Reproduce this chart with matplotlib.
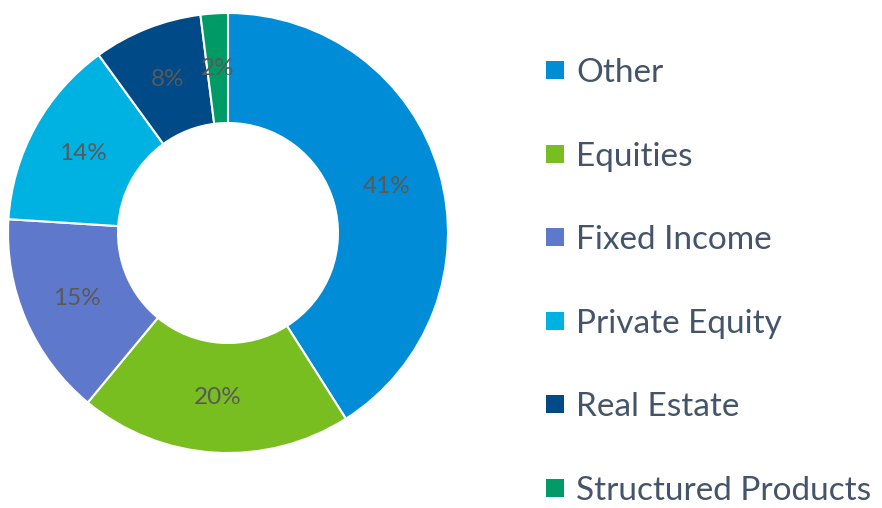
import matplotlib
matplotlib.use('Agg')
import matplotlib.pyplot as plt
from matplotlib.patches import Rectangle

labels = ['Other', 'Equities', 'Fixed Income', 'Private Equity', 'Real Estate', 'Structured Products']
shares = [41, 20, 15, 14, 8, 2]
colors = ['#008CD6', '#78BE20', '#5E78CC', '#00B2E2', '#004B87', '#009A66']

plt.rcParams['font.family'] = ['Lato', 'DejaVu Sans']

fig = plt.figure(figsize=(8.82, 5.08), dpi=100)
ax = fig.add_axes([8 / 882, 55 / 508, 440 / 882, 440 / 508])

wedges, texts, autotexts = ax.pie(
    shares, colors=colors, startangle=90, counterclock=False,
    autopct='%d%%', pctdistance=0.75, radius=1.0,
    wedgeprops=dict(width=0.5, edgecolor='white', linewidth=1.5),
    textprops=dict(color='#595959', fontsize=17.5))
ax.set_xlim(-1, 1)
ax.set_ylim(-1, 1)
ax.set_aspect('equal')

# legend drawn by hand, one row every ~83.6 px
step = 83.6
for i, (lab, col) in enumerate(zip(labels, colors)):
    yc = 1 - (70 + step * i) / 508
    yb = 1 - (82 + step * i) / 508
    fig.patches.append(Rectangle((546 / 882, yc - 9 / 508), 18 / 882, 18 / 508,
                                 transform=fig.transFigure, facecolor=col,
                                 edgecolor='none'))
    fig.text(576 / 882, yb, lab, fontsize=24, color='#44546A', va='baseline')

fig.savefig('out.png', dpi=100)
